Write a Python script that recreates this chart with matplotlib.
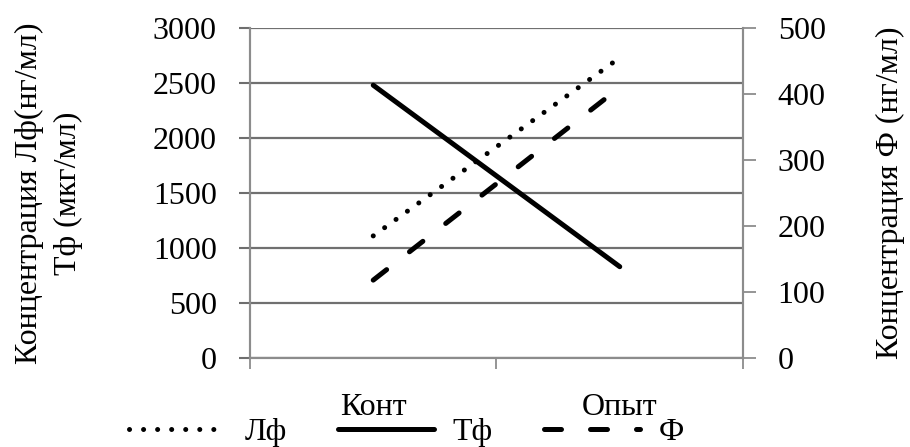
import numpy as np
import matplotlib.pyplot as plt
from matplotlib.ticker import FixedLocator

plt.rcParams['font.family'] = ['Liberation Serif', 'DejaVu Serif']

# данные
groups = ["Конт", "Опыт"]
lf = [1110, 2730]      # Лф, нг/мл (левая ось)
tf = [2480, 830]       # Тф, мкг/мл (левая ось)
f_vals = [118, 410]    # Ф, нг/мл (правая ось)

left_ticks = [0, 500, 1000, 1500, 2000, 2500, 3000]
right_ticks = [0, 100, 200, 300, 400, 500]

grey = "#8c8c8c"
x = np.arange(len(groups))

fig = plt.figure(figsize=(9.1, 4.47), dpi=100)
ax = fig.add_axes([0.2747, 0.1991, 0.5418, 0.7383])
ax2 = ax.twinx()

# линии
l1, = ax.plot(x, lf, color="black", lw=3.6, linestyle=(0, (0.01, 2.8)),
              dash_capstyle="round", label="Лф")
l2, = ax.plot(x, tf, color="black", lw=3.6, solid_capstyle="round", label="Тф")
l3, = ax2.plot(x, f_vals, color="black", lw=3.6, linestyle=(0, (3.4, 5.8)),
               dash_capstyle="round", label="Ф")

# оси
ax.set_xlim(-0.5, 1.5)
ax.set_ylim(0, 3000)
ax2.set_ylim(0, 500)
ax.set_yticks(left_ticks)
ax2.set_yticks(right_ticks)
ax.set_xticks(x)
ax.set_xticklabels(groups, fontsize=23)
ax.xaxis.set_minor_locator(FixedLocator([-0.5, 0.5, 1.5]))
ax.tick_params(axis="x", which="major", length=0, pad=25)
ax.tick_params(axis="x", which="minor", length=8, width=1.3, color=grey)
ax.tick_params(axis="y", length=8, width=1.5, color="#6e6e6e", pad=16, labelsize=23)
ax2.tick_params(axis="y", length=9, width=1.3, color=grey, pad=16, labelsize=23)

ax.yaxis.grid(True, color="#707070", lw=1.6)
ax.set_axisbelow(True)
for a in (ax, ax2):
    a.spines["top"].set_visible(False)
    for s in ("left", "right", "bottom"):
        a.spines[s].set_color(grey)
        a.spines[s].set_linewidth(1.5)

ax.set_ylabel("Концентрация Лф(нг/мл)\nТф (мкг/мл)", fontsize=23,
              linespacing=1.45, labelpad=50)
ax2.set_ylabel("Концентрация Ф (нг/мл)", fontsize=23, labelpad=36)

fig.legend(handles=[l1, l2, l3], loc="center", ncol=3,
           bbox_to_anchor=(0.447, 0.032), frameon=False, fontsize=23,
           handlelength=3.0, handletextpad=0.6, columnspacing=1.6)

fig.savefig("out.png", dpi=100)
